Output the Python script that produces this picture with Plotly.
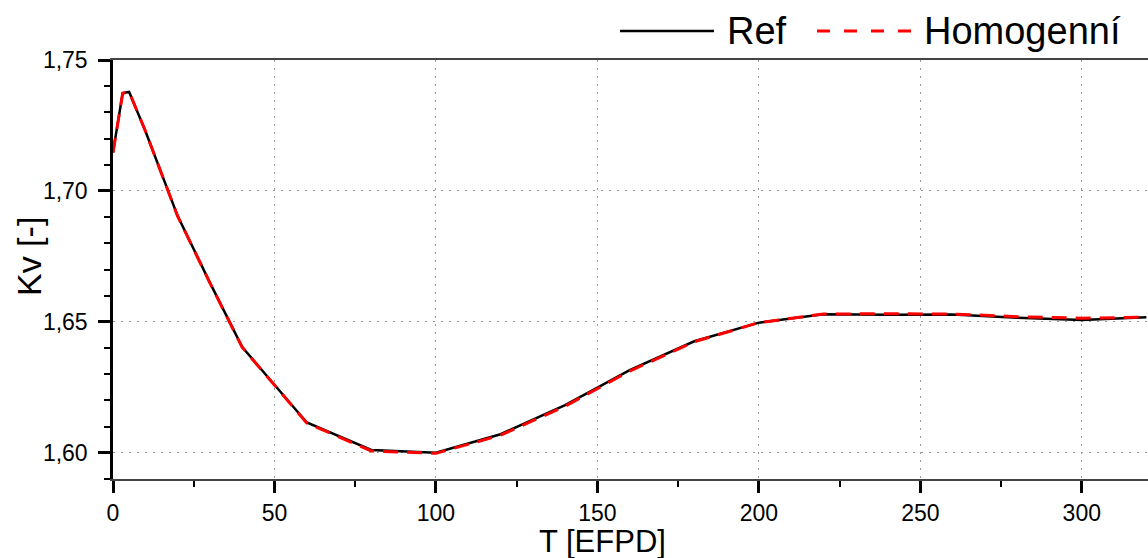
import plotly.graph_objects as go

# ---- data ----
T = [0, 3, 5, 10, 20, 30, 40, 60, 80, 100, 120, 140, 160, 180, 200, 220, 240, 260, 280, 300, 320]
kv_ref = [1.7148, 1.7374, 1.7378, 1.7230, 1.6905, 1.6650, 1.6404, 1.6116, 1.6011, 1.6000,
          1.6071, 1.6182, 1.6316, 1.6426, 1.6497, 1.6529, 1.6527, 1.6528, 1.6516, 1.6507, 1.6518]
kv_hom = [1.7146, 1.7373, 1.7378, 1.7230, 1.6904, 1.6649, 1.6403, 1.6114, 1.6007, 1.5998,
          1.6067, 1.6178, 1.6312, 1.6424, 1.6497, 1.6530, 1.6531, 1.6530, 1.6520, 1.6514, 1.6518]
series_names = ["Ref", "Homogenní"]
x_ticks = [0, 50, 100, 150, 200, 250, 300]
y_ticks = [1.60, 1.65, 1.70, 1.75]
x_title = "T [EFPD]"
y_title = "Kv [-]"

FONT = "Liberation Sans, Arial, sans-serif"
W, H = 1148, 558
L, R, TOP, B = 113, 0, 60, 79
pw, ph = W - L - R, H - TOP - B


def px_x(p):
    return (p - L) / pw


def px_y(p):
    return (H - B - p) / ph


fig = go.Figure()
fig.add_trace(go.Scatter(x=T, y=kv_ref, mode="lines", name=series_names[0],
                         line=dict(color="black", width=2.5), showlegend=False))
fig.add_trace(go.Scatter(x=T, y=kv_hom, mode="lines", name=series_names[1],
                         line=dict(color="#ff0000", width=3, dash="15px,9px"), showlegend=False))

grid = dict(showgrid=True, gridcolor="#9a9a9a", gridwidth=1.2, griddash="2px,6px")

fig.update_layout(
    width=W, height=H, autosize=False,
    margin=dict(l=L, r=R, t=TOP, b=B, pad=0),
    paper_bgcolor="white", plot_bgcolor="white",
    separators=",.",
    font=dict(family=FONT, color="black"),
    xaxis=dict(range=[0, 320.5], tickvals=x_ticks, ticks="outside", ticklen=12, tickwidth=2.5,
               tickcolor="black", showline=True, linecolor="#444", linewidth=2, mirror=True,
               zeroline=False, tickfont=dict(size=23, family=FONT, color="black"),
               minor=dict(dtick=25, tick0=0, ticks="outside", ticklen=6, tickwidth=2,
                          tickcolor="black", showgrid=False),
               **grid),
    yaxis=dict(range=[1.59, 1.75], tickvals=y_ticks, tickformat=".2f", ticks="outside",
               ticklen=12, tickwidth=2.5, tickcolor="black", showline=True, linecolor="black",
               linewidth=2.5, zeroline=False, ticklabelstandoff=6,
               tickfont=dict(size=23, family=FONT, color="black"),
               minor=dict(dtick=0.01, tick0=1.6, ticks="outside", ticklen=6, tickwidth=2,
                          tickcolor="black", showgrid=False),
               **grid),
)

# axis titles
fig.add_annotation(text=x_title, xref="paper", yref="paper", x=px_x(602), y=px_y(541),
                   xanchor="center", yanchor="middle", showarrow=False, borderpad=0,
                   font=dict(size=31, family=FONT, color="black"))
fig.add_annotation(text=y_title, xref="paper", yref="paper", x=px_x(29), y=px_y(257),
                   xanchor="center", yanchor="middle", textangle=-90, showarrow=False,
                   font=dict(size=34, family=FONT, color="black"))

# legend (keys drawn as shapes, labels as text)
ly = px_y(31)
fig.add_shape(type="line", xref="paper", yref="paper", x0=px_x(620), x1=px_x(714), y0=ly, y1=ly,
              line=dict(color="black", width=2.5))
fig.add_annotation(text=series_names[0], xref="paper", yref="paper", x=px_x(725), y=ly,
                   xanchor="left", yanchor="middle", showarrow=False,
                   font=dict(size=38, family=FONT, color="black"))
fig.add_shape(type="line", xref="paper", yref="paper", x0=px_x(817), x1=px_x(913), y0=ly, y1=ly,
              line=dict(color="#ff0000", width=3, dash="13px,14px"))
fig.add_annotation(text=series_names[1], xref="paper", yref="paper", x=px_x(922), y=ly,
                   xanchor="left", yanchor="middle", showarrow=False,
                   font=dict(size=38, family=FONT, color="black"))

fig.write_html("out.html")
